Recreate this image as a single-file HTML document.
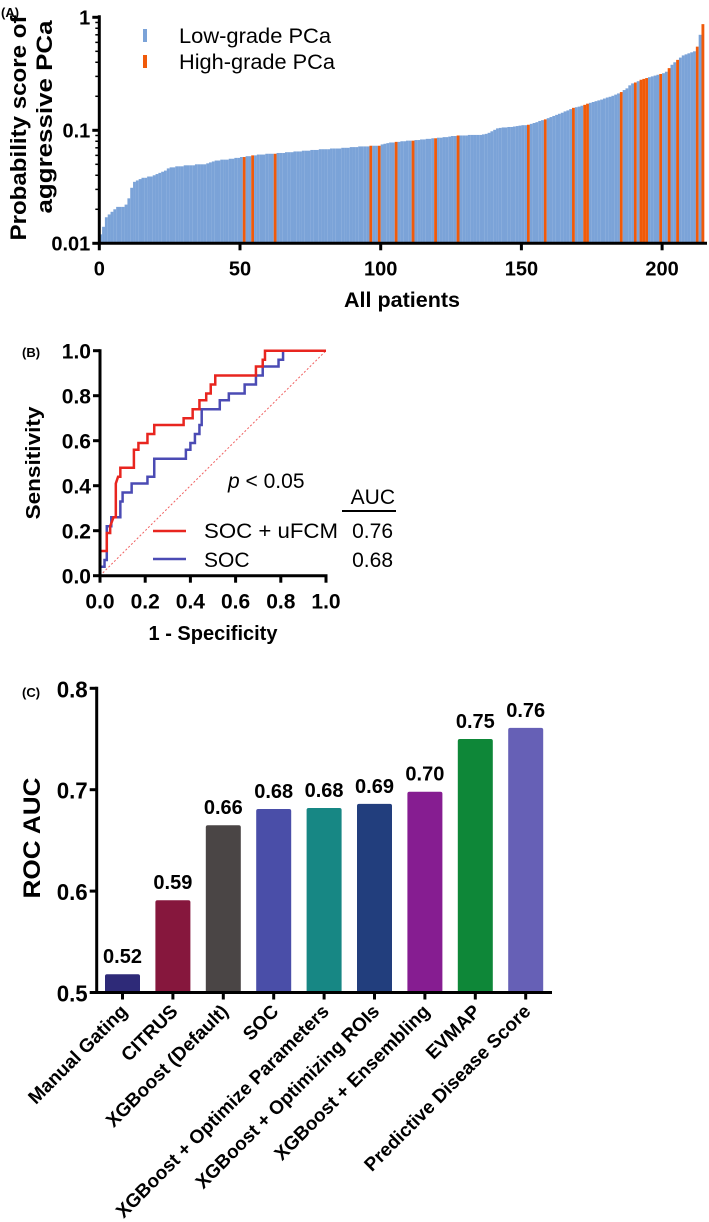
<!DOCTYPE html>
<html><head><meta charset="utf-8"><style>
html,body{margin:0;padding:0;background:#fff;width:709px;height:1222px;overflow:hidden}
svg{display:block;font-family:"Liberation Sans",Arial,sans-serif}
.b{font-weight:bold}
</style></head><body>
<svg id="root" width="709" height="1222" viewBox="0 0 709 1222">
<g id="pa"></g>
<g id="pb"></g>
<g id="pc"></g>
</svg>
<script>
// ---------- Panel A data ----------
const scoresA = [
0.012,0.014,0.017,0.018,0.019,0.020,0.021,0.021,0.021,0.022,
0.025,0.031,0.035,0.036,0.037,0.038,0.038,0.039,0.039,0.040,
0.041,0.042,0.043,0.044,0.046,0.047,0.047,0.048,0.048,0.048,
0.049,0.049,0.049,0.049,0.050,0.050,0.050,0.050,0.051,0.052,
0.053,0.054,0.054,0.055,0.055,0.055,0.056,0.056,0.057,0.057,
0.058,0.058,0.059,0.059,0.060,0.060,0.061,0.061,0.061,0.062,
0.062,0.062,0.062,0.063,0.063,0.063,0.064,0.064,0.064,0.065,
0.065,0.065,0.066,0.066,0.066,0.067,0.067,0.067,0.068,0.068,
0.068,0.068,0.069,0.069,0.069,0.069,0.070,0.070,0.070,0.071,
0.071,0.071,0.072,0.072,0.072,0.072,0.073,0.073,0.073,0.073,
0.075,0.076,0.077,0.078,0.078,0.079,0.079,0.080,0.080,0.081,
0.081,0.081,0.082,0.082,0.083,0.083,0.084,0.084,0.085,0.085,
0.086,0.086,0.087,0.087,0.088,0.089,0.089,0.090,0.090,0.090,
0.090,0.091,0.091,0.091,0.091,0.091,0.092,0.093,0.095,0.098,
0.101,0.104,0.105,0.106,0.106,0.107,0.107,0.108,0.109,0.110,
0.111,0.111,0.112,0.114,0.116,0.118,0.121,0.123,0.125,0.128,
0.131,0.134,0.137,0.140,0.143,0.147,0.150,0.154,0.158,0.160,
0.162,0.165,0.168,0.172,0.175,0.178,0.181,0.184,0.187,0.191,
0.195,0.198,0.202,0.207,0.212,0.218,0.227,0.235,0.250,0.260,
0.265,0.272,0.280,0.285,0.290,0.295,0.300,0.305,0.310,0.315,
0.320,0.330,0.355,0.380,0.400,0.420,0.440,0.460,0.470,0.480,
0.490,0.500,0.550,0.700,0.870];
const highGradeIdx = [51,54,62,96,99,105,111,119,127,152,158,168,172,173,185,190,192,193,194,199,202,205,212,214];
const xTicksA = [0,50,100,150,200];
const yTicksA = [0.01,0.1,1];
const yTickLabelsA = ["0.01","0.1","1"];

// ---------- Panel B data ----------
const rocRedFpr = [0,0,0.03,0.03,0.045,0.045,0.06,0.07,0.07,0.08,0.09,0.09,0.15,0.15,0.17,0.17,0.21,0.21,0.24,0.24,0.37,0.37,0.41,0.41,0.44,0.44,0.47,0.47,0.49,0.49,0.51,0.51,0.69,0.69,0.72,0.72,0.73,0.73,1];
const rocRedTpr = [0,0.11,0.11,0.19,0.19,0.22,0.26,0.26,0.41,0.44,0.44,0.48,0.48,0.56,0.56,0.59,0.59,0.63,0.63,0.67,0.67,0.70,0.70,0.74,0.74,0.78,0.78,0.81,0.81,0.85,0.85,0.89,0.89,0.93,0.93,0.96,0.96,1.0,1];
const rocBlueFpr = [0,0,0.02,0.02,0.03,0.03,0.05,0.05,0.09,0.09,0.10,0.10,0.14,0.14,0.21,0.21,0.24,0.24,0.38,0.38,0.40,0.40,0.42,0.42,0.44,0.44,0.45,0.45,0.53,0.53,0.57,0.57,0.64,0.64,0.69,0.69,0.72,0.72,0.79,0.79,0.81,0.81,1];
const rocBlueTpr = [0,0.04,0.04,0.07,0.07,0.22,0.22,0.26,0.26,0.33,0.33,0.37,0.37,0.41,0.41,0.44,0.44,0.52,0.52,0.56,0.56,0.59,0.59,0.63,0.63,0.67,0.67,0.74,0.74,0.78,0.78,0.81,0.81,0.85,0.85,0.89,0.89,0.93,0.93,0.96,0.96,1.0,1];
const ticksB = [0,0.2,0.4,0.6,0.8,1.0];
const tickLabelsB = ["0.0","0.2","0.4","0.6","0.8","1.0"];

// ---------- Panel C data ----------
const methodsC = ["Manual Gating","CITRUS","XGBoost (Default)","SOC","XGBoost + Optimize Parameters","XGBoost + Optimizing ROIs","XGBoost + Ensembling","EVMAP","Predictive Disease Score"];
const aucC = [0.518,0.591,0.665,0.681,0.682,0.686,0.698,0.750,0.761];
const aucLabelsC = ["0.52","0.59","0.66","0.68","0.68","0.69","0.70","0.75","0.76"];
const colorsC = ["#2E2A78","#86173D","#4A4545","#4A4EA8","#178784","#223E7D","#861D91","#0E8738","#6660B6"];
const yTicksC = [0.5,0.6,0.7,0.8];
const yTickLabelsC = ["0.5","0.6","0.7","0.8"];

const NS="http://www.w3.org/2000/svg";
function mk(parent,tag,attrs,text){const e=document.createElementNS(NS,tag);for(const k in attrs)e.setAttribute(k,attrs[k]);if(text!==undefined)e.textContent=text;parent.appendChild(e);return e;}

// ===== Panel A =====
(function(){
const g=document.getElementById('pa');
const x0=99.3, pxPer=2.814, yBase=243.3, yTop=17.3;
const xA=v=>x0+v*pxPer;
const yA=v=>yBase-(Math.log10(v)+2)/2*(yBase-yTop);
const hi=new Set(highGradeIdx);
scoresA.forEach((v,i)=>{
  const r=mk(g,'rect',{x:xA(i)-0.02,y:yA(v),width:pxPer+0.04,height:yBase-yA(v),fill:hi.has(i)?'#F05A0A':'#7BA3D8'});
  
  
});
const ax=mk(g,'line',{x1:x0,y1:yBase,x2:707,y2:yBase,stroke:'#000','stroke-width':3});

const ay=mk(g,'line',{x1:x0,y1:yTop-2,x2:x0,y2:yBase+1.5,stroke:'#000','stroke-width':3});

xTicksA.forEach(t=>{
  mk(g,'line',{x1:xA(t),y1:yBase,x2:xA(t),y2:yBase+7,stroke:'#000','stroke-width':3});
  const tx=mk(g,'text',{x:xA(t),y:yBase+32,'text-anchor':'middle','font-size':20,class:'b'},String(t));
  
});
yTicksA.forEach((t,i)=>{
  mk(g,'line',{x1:x0-7,y1:yA(t),x2:x0,y2:yA(t),stroke:'#000','stroke-width':3});
  const tx=mk(g,'text',{x:x0-9,y:yA(t)+7,'text-anchor':'end','font-size':20,class:'b'},yTickLabelsA[i]);
  
});
[0.02,0.03,0.04,0.05,0.06,0.07,0.08,0.09,0.2,0.3,0.4,0.5,0.6,0.7,0.8,0.9].forEach(t=>{
  mk(g,'line',{x1:x0-4,y1:yA(t),x2:x0,y2:yA(t),stroke:'#000','stroke-width':1.5});
});
})();
</script>
<script>
(function(){
const g=document.getElementById('pa');
function T(x,y,s,txt,name,extra){const e=mk(g,'text',Object.assign({x:x,y:y,'font-size':s},extra||{}),txt);return e;}
T(1,17,13,'(A)','panel-a-label',{class:'b'});
const lr1=mk(g,'rect',{x:143,y:29,width:4,height:13,fill:'#7BA3D8'});
const lr2=mk(g,'rect',{x:143,y:55,width:4,height:13,fill:'#F05A0A'});
T(179,43,21,'Low-grade PCa','legend-low-grade',{textLength:152,lengthAdjust:'spacingAndGlyphs'});
T(179,69,21,'High-grade PCa','legend-high-grade',{textLength:156,lengthAdjust:'spacingAndGlyphs'});
T(402,307,21,'All patients','x-axis-title-a',{'text-anchor':'middle',class:'b',textLength:116,lengthAdjust:'spacingAndGlyphs'});
T(0,0,22,'Probability score of','y-axis-title-a-line1',{'text-anchor':'middle',class:'b',transform:'translate(26,128) rotate(-90)',textLength:225,lengthAdjust:'spacingAndGlyphs'});
T(0,0,22,'aggressive PCa','y-axis-title-a-line2',{'text-anchor':'middle',class:'b',transform:'translate(52,117) rotate(-90)',textLength:193,lengthAdjust:'spacingAndGlyphs'});
})();

// ===== Panel B =====
(function(){
const g=document.getElementById('pb');
const X0=100,X1=326,Y0=575.7,Y1=350.7;
const xB=v=>X0+v*(X1-X0), yB=v=>Y0-v*(Y0-Y1);
function T(x,y,s,txt,name,extra){const e=mk(g,'text',Object.assign({x:x,y:y,'font-size':s},extra||{}),txt);return e;}
const diag=mk(g,'line',{x1:xB(0),y1:yB(0),x2:xB(1),y2:yB(1),stroke:'#F06060','stroke-width':1,'stroke-dasharray':'2,2'});

const pb=mk(g,'polyline',{points:rocBlueFpr.map((f,i)=>xB(f)+','+yB(rocBlueTpr[i])).join(' '),fill:'none',stroke:'#4B4BB4','stroke-width':2.5});

const pr=mk(g,'polyline',{points:rocRedFpr.map((f,i)=>xB(f)+','+yB(rocRedTpr[i])).join(' '),fill:'none',stroke:'#E8251F','stroke-width':2.5});

mk(g,'line',{x1:X0,y1:Y1-1.5,x2:X0,y2:Y0+1.5,stroke:'#000','stroke-width':3});
mk(g,'line',{x1:X0-1.5,y1:Y0,x2:X1+1.5,y2:Y0,stroke:'#000','stroke-width':3});
ticksB.forEach((t,i)=>{
  mk(g,'line',{x1:X0-7,y1:yB(t),x2:X0,y2:yB(t),stroke:'#000','stroke-width':3});
  mk(g,'line',{x1:xB(t),y1:Y0,x2:xB(t),y2:Y0+7,stroke:'#000','stroke-width':3});
  T(X0-9,yB(t)+8,21,tickLabelsB[i],'y-tick-label-b',{'text-anchor':'end',class:'b'});
  T(xB(t),Y0+33,21,tickLabelsB[i],'x-tick-label-b',{'text-anchor':'middle',class:'b'});
});
T(22,357,13,'(B)','panel-b-label',{class:'b'});
T(213,640,20,'1 - Specificity','x-axis-title-b',{'text-anchor':'middle',class:'b'});
T(0,0,20,'Sensitivity','y-axis-title-b',{'text-anchor':'middle',class:'b',transform:'translate(40,463) rotate(-90)',textLength:113,lengthAdjust:'spacingAndGlyphs'});
const p=T(228,488,21,'','p-value-note');
mk(p,'tspan',{'font-style':'italic'},'p');mk(p,'tspan',{},' < 0.05');
T(395,504,21,'AUC','auc-header',{'text-anchor':'end'});
mk(g,'line',{x1:342,y1:511,x2:396,y2:511,stroke:'#000','stroke-width':2});
const l1=mk(g,'line',{x1:153,y1:531,x2:186,y2:531,stroke:'#E8251F','stroke-width':2.5});
const l2=mk(g,'line',{x1:153,y1:559,x2:186,y2:559,stroke:'#4B4BB4','stroke-width':2.5});
T(204,538,21,'SOC + uFCM','legend-soc-ufcm',{textLength:134,lengthAdjust:'spacingAndGlyphs'});
T(204,567,21,'SOC','legend-soc');
T(393,538,21,'0.76','auc-soc-ufcm',{'text-anchor':'end'});
T(393,567,21,'0.68','auc-soc',{'text-anchor':'end'});
})();

// ===== Panel C =====
(function(){
const g=document.getElementById('pc');
const X0=96.7, Y05=992.5, pxPerUnit=(992.5-688.3)/0.3;
const yC=v=>Y05-(v-0.5)*pxPerUnit;
const xC=i=>122.5+i*50.4;
const bw=35;
function T(x,y,s,txt,name,extra){const e=mk(g,'text',Object.assign({x:x,y:y,'font-size':s},extra||{}),txt);return e;}
aucC.forEach((v,i)=>{
  const r=mk(g,'rect',{x:xC(i)-bw/2,y:yC(v),width:bw,height:Y05-yC(v),fill:colorsC[i],rx:2});
  
  
  T(xC(i),yC(v)-11,20,aucLabelsC[i],'value-label',{'text-anchor':'middle',class:'b'});
  mk(g,'line',{x1:xC(i),y1:Y05,x2:xC(i),y2:Y05+7,stroke:'#000','stroke-width':3});
  T(0,0,19,methodsC[i],'category-label',{'text-anchor':'end',class:'b',transform:'translate('+(xC(i)+6)+','+(Y05+20)+') rotate(-45)'});
});
mk(g,'line',{x1:X0,y1:yC(0.8)-1.5,x2:X0,y2:Y05+1.5,stroke:'#000','stroke-width':3});
mk(g,'line',{x1:X0-1.5,y1:Y05,x2:552,y2:Y05,stroke:'#000','stroke-width':3});
yTicksC.forEach((t,i)=>{
  mk(g,'line',{x1:X0-7,y1:yC(t),x2:X0,y2:yC(t),stroke:'#000','stroke-width':3});
  T(X0-9,yC(t)+9,23,yTickLabelsC[i],'y-tick-label-c',{'text-anchor':'end',class:'b',textLength:31,lengthAdjust:'spacingAndGlyphs'});
});
T(22,697,13,'(C)','panel-c-label',{class:'b'});
T(0,0,24,'ROC  AUC','y-axis-title-c',{'text-anchor':'middle',class:'b',transform:'translate(40,838) rotate(-90)',textLength:121,lengthAdjust:'spacingAndGlyphs'});
})();
</script>
</body></html>
